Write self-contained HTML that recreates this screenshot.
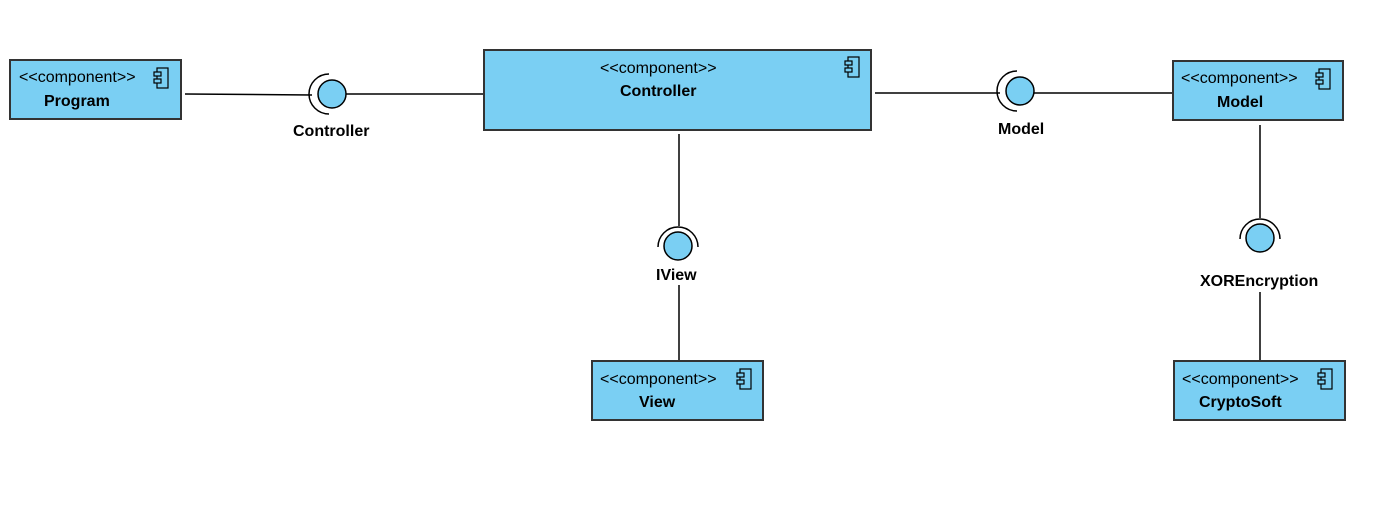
<!DOCTYPE html>
<html><head><style>body{margin:0;background:#fff}svg{display:block}</style></head><body>
<svg width="1391" height="520" xmlns="http://www.w3.org/2000/svg" font-family="Liberation Sans, Arial, sans-serif">
<defs>
<g id="ic"><rect x="3" y="0" width="11" height="20" fill="none" stroke="#000" stroke-width="1.2"/><rect x="0" y="4" width="7" height="4" fill="#7acff3" stroke="#000" stroke-width="1.2"/><rect x="0" y="11" width="7" height="4" fill="#7acff3" stroke="#000" stroke-width="1.2"/></g>
</defs>
<g stroke="#000" stroke-width="1.5" fill="none">
<line x1="185" y1="94" x2="312" y2="95"/><line x1="346" y1="94" x2="484" y2="94"/>
<line x1="875" y1="93" x2="1000" y2="93"/><line x1="1034" y1="93" x2="1173" y2="93"/>
<line x1="679" y1="134" x2="679" y2="226"/><line x1="679" y1="285" x2="679" y2="361"/>
<line x1="1260" y1="125" x2="1260" y2="218"/><line x1="1260" y1="292" x2="1260" y2="361"/>
</g>
<g fill="#7acff3" stroke="#333" stroke-width="2">
<rect x="10" y="60" width="171" height="59"/>
<rect x="484" y="50" width="387" height="80"/>
<rect x="1173" y="61" width="170" height="59"/>
<rect x="592" y="361" width="171" height="59"/>
<rect x="1174" y="361" width="171" height="59"/>
</g>
<use href="#ic" x="154" y="68"/><use href="#ic" x="845" y="57"/><use href="#ic" x="1316" y="69"/>
<use href="#ic" x="737" y="369"/><use href="#ic" x="1318" y="369"/>
<g fill="#7acff3" stroke="#000" stroke-width="1.5">
<circle cx="332" cy="94" r="14"/><circle cx="1020" cy="91" r="14"/>
<circle cx="678" cy="246" r="14"/><circle cx="1260" cy="238" r="14"/>
</g>
<g fill="none" stroke="#000" stroke-width="1.5">
<path d="M329 74 A20 20 0 0 0 329 114"/>
<path d="M1017 71 A20 20 0 0 0 1017 111"/>
<path d="M658 247 A20 20 0 0 1 698 247"/>
<path d="M1240 239 A20 20 0 0 1 1280 239"/>
</g>
<g font-size="16" fill="#000">
<text x="19" y="82">&lt;&lt;component&gt;&gt;</text><text x="44" y="106" font-weight="bold">Program</text>
<text x="600" y="73">&lt;&lt;component&gt;&gt;</text><text x="620" y="96" font-weight="bold">Controller</text>
<text x="1181" y="83">&lt;&lt;component&gt;&gt;</text><text x="1217" y="107" font-weight="bold">Model</text>
<text x="600" y="384">&lt;&lt;component&gt;&gt;</text><text x="639" y="407" font-weight="bold">View</text>
<text x="1182" y="384">&lt;&lt;component&gt;&gt;</text><text x="1199" y="407" font-weight="bold">CryptoSoft</text>
<text x="293" y="136" font-weight="bold">Controller</text>
<text x="998" y="134" font-weight="bold">Model</text>
<text x="656" y="280" font-weight="bold">IView</text>
<text x="1200" y="286" font-weight="bold">XOREncryption</text>
</g>
</svg>
</body></html>
